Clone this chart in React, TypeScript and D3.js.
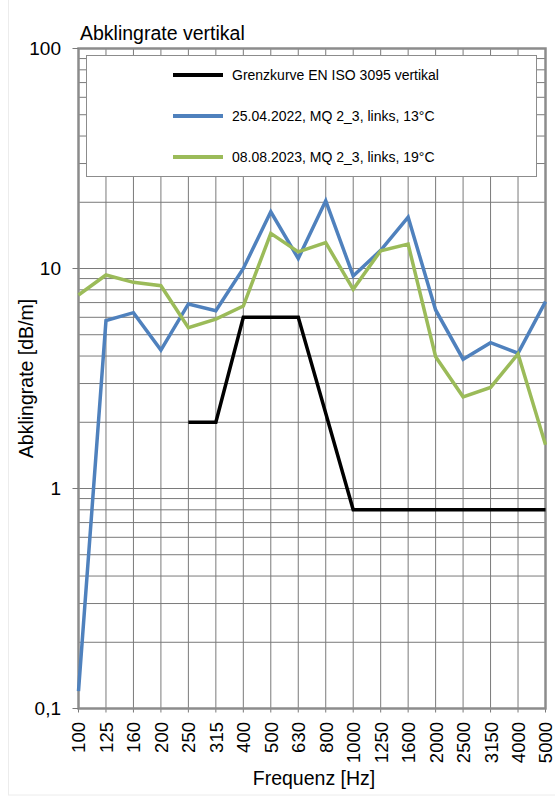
import * as d3 from "d3";
import { useEffect, useRef } from "react";

const width = 555,
  height = 796,
  plotLeft = 78.5,
  plotRight = 545.5,
  plotTop = 48.5,
  plotBottom = 708.5;

const frequencies = ["100", "125", "160", "200", "250", "315", "400", "500", "630", "800", "1000", "1250", "1600", "2000", "2500", "3150", "4000", "5000"];
const grenzkurve: (number | null)[] = [null, null, null, null, 2, 2, 6, 6, 6, 2.2, 0.8, 0.8, 0.8, 0.8, 0.8, 0.8, 0.8, 0.8];
const messung2022 = [0.12, 5.8, 6.3, 4.26, 6.9, 6.43, 10.0, 18.1, 11.1, 20.3, 9.25, 12.1, 17.1, 6.48, 3.87, 4.6, 4.12, 7.07];
const messung2023 = [7.58, 9.34, 8.65, 8.35, 5.38, 5.89, 6.75, 14.45, 11.9, 13.1, 8.04, 12.05, 12.9, 3.97, 2.61, 2.88, 4.09, 1.58];
const yTicks = [0.1, 1, 10, 100];
const yTickLabels = ["0,1", "1", "10", "100"];

const seriesNames = [
  "Grenzkurve EN ISO 3095 vertikal",
  "25.04.2022, MQ 2_3, links, 13°C",
  "08.08.2023, MQ 2_3, links, 19°C",
];
const seriesColors = ["#000000", "#4f81bd", "#9bbb59"];

const font = "'Liberation Sans', Arial, sans-serif";

export default function App() {
  const ref = useRef<SVGSVGElement | null>(null);

  useEffect(() => {
    if (!ref.current) return;
    const svg = d3.select(ref.current);
    svg.selectAll("*").remove();

    const x = d3.scalePoint(frequencies, [plotLeft, plotRight]);
    const y = d3.scaleLog([0.1, 100], [plotBottom, plotTop]);

    // light outer chart border
    svg
      .append("rect")
      .attr("x", 8.5)
      .attr("y", -2)
      .attr("width", width)
      .attr("height", 797)
      .attr("fill", "none")
      .attr("stroke", "#ececec");

    // horizontal grid (1..9 per decade)
    const gridValues: number[] = [];
    for (let e = -1; e <= 1; e++) {
      for (let m = 1; m <= 9; m++) gridValues.push(m * Math.pow(10, e));
    }
    gridValues.push(100);

    svg
      .append("g")
      .selectAll("line")
      .data(gridValues)
      .join("line")
      .attr("x1", plotLeft)
      .attr("x2", plotRight)
      .attr("y1", (d) => y(d))
      .attr("y2", (d) => y(d))
      .attr("stroke", "#7a7a7a")
      .attr("stroke-width", 1);

    // vertical grid
    svg
      .append("g")
      .selectAll("line")
      .data(frequencies)
      .join("line")
      .attr("x1", (d) => x(d)!)
      .attr("x2", (d) => x(d)!)
      .attr("y1", plotTop)
      .attr("y2", plotBottom + 4)
      .attr("stroke", "#7a7a7a")
      .attr("stroke-width", 1);

    // plot border
    svg
      .append("rect")
      .attr("x", plotLeft)
      .attr("y", plotTop)
      .attr("width", plotRight - plotLeft)
      .attr("height", plotBottom - plotTop)
      .attr("fill", "none")
      .attr("stroke", "#8c8c8c")
      .attr("stroke-width", 2.5);

    // y-axis ticks and labels
    const yAxis = svg.append("g");
    yAxis
      .selectAll("line")
      .data(yTicks)
      .join("line")
      .attr("x1", plotLeft - 6)
      .attr("x2", plotLeft)
      .attr("y1", (d) => y(d))
      .attr("y2", (d) => y(d))
      .attr("stroke", "#7a7a7a");
    yAxis
      .selectAll("text")
      .data(yTicks)
      .join("text")
      .attr("x", 61)
      .attr("y", (d) => y(d))
      .attr("dy", "0.35em")
      .attr("text-anchor", "end")
      .attr("font-family", font)
      .attr("font-size", 19)
      .text((d, i) => yTickLabels[i]);

    // x labels, rotated
    svg
      .append("g")
      .selectAll("text")
      .data(frequencies)
      .join("text")
      .attr("transform", (d) => `translate(${x(d)! + 0.5},722) rotate(-90)`)
      .attr("dy", "0.35em")
      .attr("text-anchor", "end")
      .attr("font-family", font)
      .attr("font-size", 18.5)
      .text((d) => d);

    // titles
    svg
      .append("text")
      .attr("x", 80)
      .attr("y", 40)
      .attr("font-family", font)
      .attr("font-size", 19.5)
      .text("Abklingrate vertikal");
    svg
      .append("text")
      .attr("x", (plotLeft + plotRight) / 2 + 2)
      .attr("y", 785)
      .attr("text-anchor", "middle")
      .attr("font-family", font)
      .attr("font-size", 19.5)
      .text("Frequenz [Hz]");
    svg
      .append("text")
      .attr("transform", `translate(33,${(plotTop + plotBottom) / 2}) rotate(-90)`)
      .attr("text-anchor", "middle")
      .attr("font-family", font)
      .attr("font-size", 19.5)
      .text("Abklingrate [dB/m]");

    // legend box
    svg
      .append("rect")
      .attr("x", 86.5)
      .attr("y", 55.5)
      .attr("width", 450)
      .attr("height", 121)
      .attr("fill", "#ffffff")
      .attr("stroke", "#8c8c8c")
      .attr("stroke-width", 1);
    const legend = svg
      .append("g")
      .selectAll("g")
      .data(seriesNames)
      .join("g")
      .attr("transform", (d, i) => `translate(0,${75 + i * 41})`);
    legend
      .append("line")
      .attr("x1", 173)
      .attr("x2", 223)
      .attr("stroke", (d, i) => seriesColors[i])
      .attr("stroke-width", 4);
    legend
      .append("text")
      .attr("x", 232)
      .attr("dy", "0.35em")
      .attr("font-family", font)
      .attr("font-size", 14)
      .text((d) => d);

    // data lines
    const line = d3
      .line<number | null>()
      .defined((d) => d != null)
      .x((d, i) => x(frequencies[i])!)
      .y((d) => y(d as number));

    [grenzkurve, messung2022, messung2023].forEach((s, i) => {
      svg
        .append("path")
        .attr("fill", "none")
        .attr("stroke", seriesColors[i])
        .attr("stroke-width", 3.5)
        .attr("stroke-linejoin", "miter")
        .attr("d", line(s));
    });
  }, []);

  return (
    <svg
      ref={ref}
      width={width}
      height={height}
      style={{ position: "absolute", left: 0, top: 0, background: "#fff" }}
    />
  );
}
